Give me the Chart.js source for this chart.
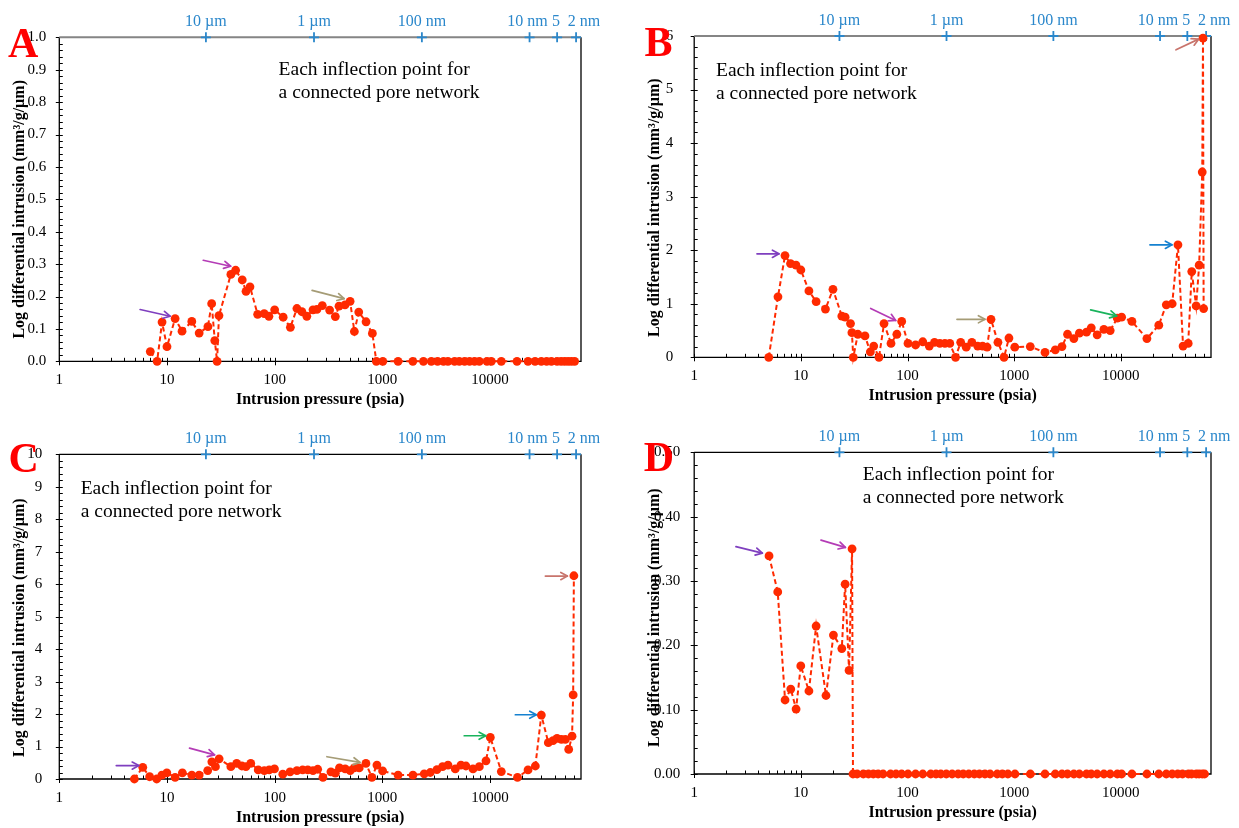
<!DOCTYPE html>
<html>
<head>
<meta charset="utf-8">
<script src="https://cdn.jsdelivr.net/npm/chart.js@4.4.1/dist/chart.umd.min.js"></script>
<style>
  html, body { margin: 0; padding: 0; background: #fff; }
  #wrap { position: relative; width: 1239px; height: 828px; overflow: hidden; background: #fff; }
  #wrap canvas { position: absolute; }
</style>
</head>
<body>
<div id="wrap">
  <canvas id="cA" width="620" height="414" style="left:0px;top:0px"></canvas>
  <canvas id="cB" width="619" height="414" style="left:620px;top:0px"></canvas>
  <canvas id="cC" width="620" height="414" style="left:0px;top:414px"></canvas>
  <canvas id="cD" width="619" height="414" style="left:620px;top:414px"></canvas>
</div>
<script>
// ---- Mercury intrusion data: pressure (psia) and log differential intrusion (mm3/g/um) ----
const pressureA = [7.0, 8.1, 9.0, 10.0, 11.9, 13.8, 17.0, 19.9, 24.0, 26.0, 27.8, 29.2, 30.4,
  39.2, 43.4, 50.0, 54.2, 59.0, 69.5, 80.0, 88.5, 100, 120, 140, 161, 179, 199, 227, 247, 277,
  324, 366, 396, 450, 502, 550, 604, 706, 808, 880, 1010, 1400, 1920, 2410, 2850, 3260, 3700,
  4070, 4690, 5190, 5810, 6460, 7190, 7960, 9380, 10290, 12740, 17820, 22550, 26200, 29970,
  33580, 37140, 41960, 45710, 49350, 53060, 56900, 61100];
const intrusionA = [0.030, 0, 0.121, 0.045, 0.132, 0.093, 0.123, 0.087, 0.107, 0.178, 0.064, 0, 0.141,
  0.268, 0.281, 0.251, 0.216, 0.230, 0.145, 0.147, 0.139, 0.159, 0.136, 0.105, 0.163, 0.153, 0.139,
  0.159, 0.160, 0.172, 0.158, 0.138, 0.170, 0.174, 0.185, 0.092, 0.152, 0.122, 0.086, 0, 0, 0, 0,
  0, 0, 0, 0, 0, 0, 0, 0, 0, 0, 0, 0, 0, 0, 0, 0, 0, 0, 0, 0, 0, 0, 0, 0, 0, 0];

const pressureB = [5.0, 6.1, 7.1, 8.0, 9.0, 10.0, 11.9, 13.9, 17.0, 20.0, 24.2, 26.0, 29.2, 30.1,
  31.0, 34.2, 39.9, 44.8, 48.2, 54.0, 60.2, 70.0, 79.4, 88.2, 101, 119, 139, 160, 179, 201, 224,
  249, 282, 315, 355, 401, 455, 505, 557, 606, 704, 803, 893, 1012, 1415, 1944, 2428, 2805, 3162,
  3625, 4083, 4764, 5277, 5995, 6934, 7943, 9260, 10170, 12700, 17550, 22680, 26670, 30290,
  34300, 38300, 42800, 46200, 50800, 54200, 57950, 58900, 59700];
const intrusionB = [0, 1.13, 1.90, 1.75, 1.72, 1.63, 1.24, 1.04, 0.90, 1.27, 0.77, 0.75, 0.63, 0.46,
  0, 0.43, 0.40, 0.10, 0.21, 0, 0.63, 0.26, 0.43, 0.67, 0.26, 0.23, 0.29, 0.21, 0.28, 0.26, 0.26,
  0.26, 0, 0.28, 0.19, 0.28, 0.21, 0.21, 0.19, 0.71, 0.28, 0, 0.36, 0.19, 0.20, 0.09, 0.14, 0.20,
  0.43, 0.35, 0.45, 0.47, 0.55, 0.42, 0.52, 0.50, 0.73, 0.75, 0.67, 0.35, 0.60, 0.98, 1.00, 2.10,
  0.21, 0.26, 1.60, 0.96, 1.72, 3.46, 5.96, 0.91];

const pressureC = [4.98, 5.96, 6.9, 8.03, 8.97, 9.97, 11.9, 13.9, 17.0, 19.9, 23.9, 26.1, 28.2, 30.5,
  39.2, 44.4, 49.6, 54.1, 60.0, 70.4, 80.2, 89.0, 99.6, 119, 139, 161, 182, 203, 227, 251, 281,
  333, 366, 400, 452, 503, 548, 610, 704, 800, 891, 1006, 1400, 1924, 2450, 2790, 3216, 3627, 4071,
  4758, 5370, 5980, 6950, 7960, 9180, 10070, 12740, 18000, 22550, 26370, 29970, 34800, 38500,
  41960, 46000, 50100, 53800, 57800, 59200, 60100];
const intrusionC = [0, 0.36, 0.07, 0, 0.12, 0.19, 0.05, 0.19, 0.12, 0.12, 0.26, 0.53, 0.38, 0.62,
  0.38, 0.48, 0.40, 0.38, 0.48, 0.28, 0.26, 0.28, 0.31, 0.15, 0.22, 0.26, 0.28, 0.28, 0.26, 0.30,
  0.05, 0.22, 0.18, 0.34, 0.31, 0.26, 0.34, 0.34, 0.48, 0.05, 0.43, 0.25, 0.12, 0.12, 0.16, 0.20,
  0.29, 0.38, 0.43, 0.31, 0.43, 0.40, 0.31, 0.38, 0.56, 1.28, 0.23, 0.05, 0.28, 0.40, 1.97, 1.12,
  1.18, 1.25, 1.22, 1.22, 0.91, 1.32, 2.59, 6.26];

const pressureD = [5.03, 6.07, 7.11, 8.04, 9.02, 9.98, 11.9, 13.9, 17.2, 20.2, 24.2, 26.0, 28.3, 30.2,
  30.8, 33.7, 38.5, 43.0, 47.8, 53.0, 59.0, 69.3, 78.0, 88.0, 101, 119, 139, 165, 185, 205, 231,
  262, 298, 333, 375, 423, 472, 532, 594, 693, 774, 873, 1017, 1418, 1944, 2428, 2805, 3162, 3625,
  4083, 4764, 5277, 5995, 6934, 7943, 9260, 10170, 12700, 17550, 22680, 26670, 30290, 34140,
  37830, 42980, 46030, 50970, 54100, 57920, 60950];
const intrusionD = [0.339, 0.283, 0.115, 0.132, 0.101, 0.168, 0.129, 0.230, 0.122, 0.216, 0.195,
  0.295, 0.161, 0.350, 0, 0, 0, 0, 0, 0, 0, 0, 0, 0, 0, 0, 0, 0, 0, 0, 0, 0, 0, 0, 0, 0, 0, 0, 0,
  0, 0, 0, 0, 0, 0, 0, 0, 0, 0, 0, 0, 0, 0, 0, 0, 0, 0, 0, 0, 0, 0, 0, 0, 0, 0, 0, 0, 0, 0, 0];

// Bottom axis: labelled pressures; top axis: equivalent pore throat diameters
const pressureTicks = [1, 10, 100, 1000, 10000];
const poreTickPressure = [23, 232, 2330, 23300, 42000, 63000];
const poreTickLabels = ['10 \u00b5m', '1 \u00b5m', '100 nm', '10 nm', '5', '2 nm'];

const SERIF = "'Liberation Serif', 'Times New Roman', serif";
const X_MIN = 1, X_MAX = 70000;
const PORE_BLUE = '#2a87cb';
const PORE_LABEL_SHIFT = [0, 0, 0, -2, -1, 8];
const ARROW = { purple: '#7f3fbf', magenta: '#b43cb6', khaki: '#a59c76', green: '#19b35c', blue: '#1581d0', salmon: '#c8746c' };

function drawArrow(ctx, x1, y1, x2, y2, color) {
  ctx.save();
  ctx.strokeStyle = color;
  ctx.lineWidth = 1.7;
  ctx.lineCap = 'round';
  ctx.lineJoin = 'round';
  ctx.beginPath(); ctx.moveTo(x1, y1); ctx.lineTo(x2, y2); ctx.stroke();
  const ang = Math.atan2(y2 - y1, x2 - x1), h = 7.5, w = 0.5;
  ctx.beginPath();
  ctx.moveTo(x2 - h * Math.cos(ang - w), y2 - h * Math.sin(ang - w));
  ctx.lineTo(x2, y2);
  ctx.lineTo(x2 - h * Math.cos(ang + w), y2 - h * Math.sin(ang + w));
  ctx.stroke();
  ctx.restore();
}

// Axes frame, minor/major tick marks, pore-size axis, titles, note, arrows and panel letter
const panelDecor = {
  id: 'panelDecor',
  beforeDatasetsDraw(chart, args, o) {
    const { ctx, chartArea: a, scales } = chart;
    const x = scales.x, y = scales.y, t = scales.top;
    ctx.save();
    ctx.strokeStyle = '#000';
    ctx.lineWidth = 1;
    // y ticks
    const n = Math.round(o.yMax / (o.yStep / o.ySub));
    for (let i = 0; i <= n; i++) {
      const py = Math.round(y.getPixelForValue(i * o.yStep / o.ySub)) + 0.5;
      ctx.beginPath();
      if (i % o.ySub === 0) { ctx.moveTo(a.left - 3.5, py); ctx.lineTo(a.left + 3.5, py); }
      else { ctx.moveTo(a.left, py); ctx.lineTo(a.left + 3.5, py); }
      ctx.stroke();
    }
    // x ticks (log decades)
    for (let d = 0; d <= 4; d++) {
      for (let k = 1; k <= 9; k++) {
        const v = k * Math.pow(10, d);
        if (v >= X_MAX) break;
        const px = Math.round(x.getPixelForValue(v)) + 0.5;
        ctx.beginPath();
        if (k === 1) { ctx.moveTo(px, a.bottom - 3.5); ctx.lineTo(px, a.bottom + 4); }
        else { ctx.moveTo(px, a.bottom - 3.5); ctx.lineTo(px, a.bottom); }
        ctx.stroke();
      }
    }
    // frame
    ctx.lineWidth = 1.3;
    ctx.beginPath();
    ctx.moveTo(a.right, a.top); ctx.lineTo(a.right, a.bottom); ctx.lineTo(a.left, a.bottom); ctx.lineTo(a.left, a.top);
    ctx.stroke();
    ctx.strokeStyle = o.topColor;
    ctx.lineWidth = o.topWidth;
    ctx.beginPath(); ctx.moveTo(a.left, a.top); ctx.lineTo(a.right, a.top); ctx.stroke();
    // pore size crosses and labels on the top axis
    ctx.strokeStyle = PORE_BLUE;
    ctx.fillStyle = PORE_BLUE;
    ctx.lineWidth = 1.8;
    ctx.font = '16px ' + SERIF;
    ctx.textAlign = 'center';
    ctx.textBaseline = 'middle';
    t.ticks.forEach((tk, i) => {
      const px = t.getPixelForValue(tk.value);
      ctx.beginPath();
      ctx.moveTo(px - 5, a.top); ctx.lineTo(px + 5, a.top);
      ctx.moveTo(px, a.top - 5); ctx.lineTo(px, a.top + 5);
      ctx.stroke();
      ctx.fillText(tk.label, px + PORE_LABEL_SHIFT[i], a.top - 15.7);
    });
    ctx.restore();
  },
  afterDraw(chart, args, o) {
    const { ctx, chartArea: a, scales } = chart;
    const x = scales.x, y = scales.y;
    ctx.save();
    ctx.fillStyle = '#000';
    // axis titles
    ctx.font = 'bold 16px ' + SERIF;
    ctx.textAlign = 'center';
    ctx.textBaseline = 'middle';
    ctx.fillText('Intrusion pressure (psia)', (a.left + a.right) / 2, a.bottom + 39);
    ctx.save();
    ctx.translate(a.left - 39, (a.top + a.bottom) / 2 + o.yTitleShift);
    ctx.rotate(-Math.PI / 2);
    ctx.fillText('Log differential intrusion (mm\u00b3/g/\u00b5m)', 0, 0);
    ctx.restore();
    // note
    ctx.font = '19.5px ' + SERIF;
    ctx.textAlign = 'left';
    ctx.fillText('Each inflection point for', a.left + o.noteX, a.top + o.noteY);
    ctx.fillText('a connected pore network', a.left + o.noteX, a.top + o.noteY + 22.7);
    // arrows toward the inflection points
    const ds = chart.data.datasets[0].data;
    o.arrows.forEach(ar => {
      const p = ds[ar.i];
      const tx = x.getPixelForValue(p.x) + ar.tip[0];
      const ty = y.getPixelForValue(p.y) + ar.tip[1];
      drawArrow(ctx, tx + ar.back[0], ty + ar.back[1], tx, ty, ARROW[ar.c]);
    });
    // panel letter
    ctx.font = 'bold 42px ' + SERIF;
    ctx.fillStyle = '#ff0000';
    ctx.textBaseline = 'alphabetic';
    ctx.fillText(o.letter, o.letterX, o.letterY);
    ctx.restore();
  }
};

function makePanel(id, p) {
  const data = p.pressure.map((v, i) => ({ x: v, y: p.values[i] }));
  const canvas = document.getElementById(id);
  return new Chart(canvas, {
    type: 'line',
    data: {
      datasets: [{
        data,
        borderColor: '#ff2a00',
        backgroundColor: '#ff2a00',
        borderWidth: 2,
        borderDash: [5, 3],
        pointRadius: 4.4,
        pointHoverRadius: 4.4,
        pointBackgroundColor: '#ff2a00',
        pointBorderColor: '#ff2a00',
        pointBorderWidth: 0,
        tension: 0,
        clip: false
      }]
    },
    options: {
      responsive: false,
      animation: false,
      devicePixelRatio: 1,
      events: [],
      layout: { autoPadding: false, padding: { left: 0, top: 0, right: p.rightPad, bottom: 0 } },
      plugins: {
        legend: { display: false },
        tooltip: { enabled: false },
        panelDecor: p.decor
      },
      scales: {
        x: {
          type: 'logarithmic', position: 'bottom', min: X_MIN, max: X_MAX,
          afterBuildTicks: s => { s.ticks = pressureTicks.map(v => ({ value: v })); },
          afterFit: s => { s.height = p.bottomSpace; },
          grid: { display: false, drawTicks: false }, border: { display: false },
          ticks: { autoSkip: false, maxRotation: 0, minRotation: 0, padding: 10, color: '#000',
            font: { family: SERIF, size: 15 }, callback: v => String(v) }
        },
        top: {
          type: 'logarithmic', position: 'top', min: X_MIN, max: X_MAX,
          afterBuildTicks: s => { s.ticks = poreTickPressure.map(v => ({ value: v })); },
          afterFit: s => { s.height = p.plotTop; },
          grid: { display: false, drawTicks: false }, border: { display: false },
          ticks: { display: false, callback: (v, i) => poreTickLabels[i] }
        },
        y: {
          type: 'linear', position: 'left', min: 0, max: p.decor.yMax,
          afterFit: s => { s.width = p.plotLeft; },
          grid: { display: false, drawTicks: false }, border: { display: false },
          ticks: { stepSize: p.decor.yStep, autoSkip: false, padding: p.yTickPad, color: '#000',
            font: { family: SERIF, size: 15 }, callback: v => v.toFixed(p.yDec) }
        }
      }
    },
    plugins: [panelDecor]
  });
}

makePanel('cA', {
  pressure: pressureA, values: intrusionA, plotLeft: 59.3, plotTop: 37.3, rightPad: 39, bottomSpace: 52.7,
  yTickPad: 13, yDec: 1,
  decor: { yMax: 1, yStep: 0.1, ySub: 5, topColor: '#858585', topWidth: 2, yTitleShift: 10,
    noteX: 219.3, noteY: 32.7, letter: 'A', letterX: 8, letterY: 57,
    arrows: [
      { i: 4, c: 'purple', tip: [-5, -2.3], back: [-30, -6.7] },
      { i: 14, c: 'magenta', tip: [-5, -4], back: [-27.4, -6] },
      { i: 34, c: 'khaki', tip: [-6, -2.7], back: [-32, -8.3] }
    ] }
});

makePanel('cB', {
  pressure: pressureB, values: intrusionB, plotLeft: 74.2, plotTop: 36, rightPad: 28, bottomSpace: 56.7,
  yTickPad: 21, yDec: 0,
  decor: { yMax: 6, yStep: 1, ySub: 5, topColor: '#858585', topWidth: 2, yTitleShift: 11,
    noteX: 21.8, noteY: 35, letter: 'B', letterX: 24.5, letterY: 56,
    arrows: [
      { i: 2, c: 'purple', tip: [-6, -1.7], back: [-22, 0] },
      { i: 23, c: 'magenta', tip: [-6, -1], back: [-25, -12] },
      { i: 39, c: 'khaki', tip: [-6, 0], back: [-28, 0] },
      { i: 57, c: 'green', tip: [-5, -1.3], back: [-26, -6] },
      { i: 63, c: 'blue', tip: [-6, 0], back: [-22, 0] },
      { i: 70, c: 'salmon', tip: [-4.4, 1], back: [-22.6, 10.7] }
    ] }
});

makePanel('cC', {
  pressure: pressureC, values: intrusionC, plotLeft: 59.3, plotTop: 40.3, rightPad: 39, bottomSpace: 49,
  yTickPad: 17, yDec: 0,
  decor: { yMax: 10, yStep: 1, ySub: 5, topColor: '#000', topWidth: 1.3, yTitleShift: 11,
    noteX: 21.4, noteY: 34.7, letter: 'C', letterX: 8.4, letterY: 58,
    arrows: [
      { i: 1, c: 'purple', tip: [-4, -1.7], back: [-22.5, 0] },
      { i: 13, c: 'magenta', tip: [-4.6, -4], back: [-25, -6.7] },
      { i: 38, c: 'khaki', tip: [-6, -1], back: [-33, -5.7] },
      { i: 55, c: 'green', tip: [-4.6, -1.7], back: [-21.5, 0] },
      { i: 60, c: 'blue', tip: [-5, -0.3], back: [-21, 0] },
      { i: 69, c: 'salmon', tip: [-6.5, 0.3], back: [-22, 0] }
    ] }
});

makePanel('cD', {
  pressure: pressureD, values: intrusionD, plotLeft: 74.2, plotTop: 38.3, rightPad: 28, bottomSpace: 54,
  yTickPad: 14, yDec: 2,
  decor: { yMax: 0.5, yStep: 0.1, ySub: 5, topColor: '#000', topWidth: 1.3, yTitleShift: 4.5,
    noteX: 168.6, noteY: 22.7, letter: 'D', letterX: 23.7, letterY: 57,
    arrows: [
      { i: 0, c: 'purple', tip: [-6.7, -2.7], back: [-26.4, -6.6] },
      { i: 13, c: 'magenta', tip: [-6.7, -1.4], back: [-24.4, -7.3] }
    ] }
});
</script>
</body>
</html>
